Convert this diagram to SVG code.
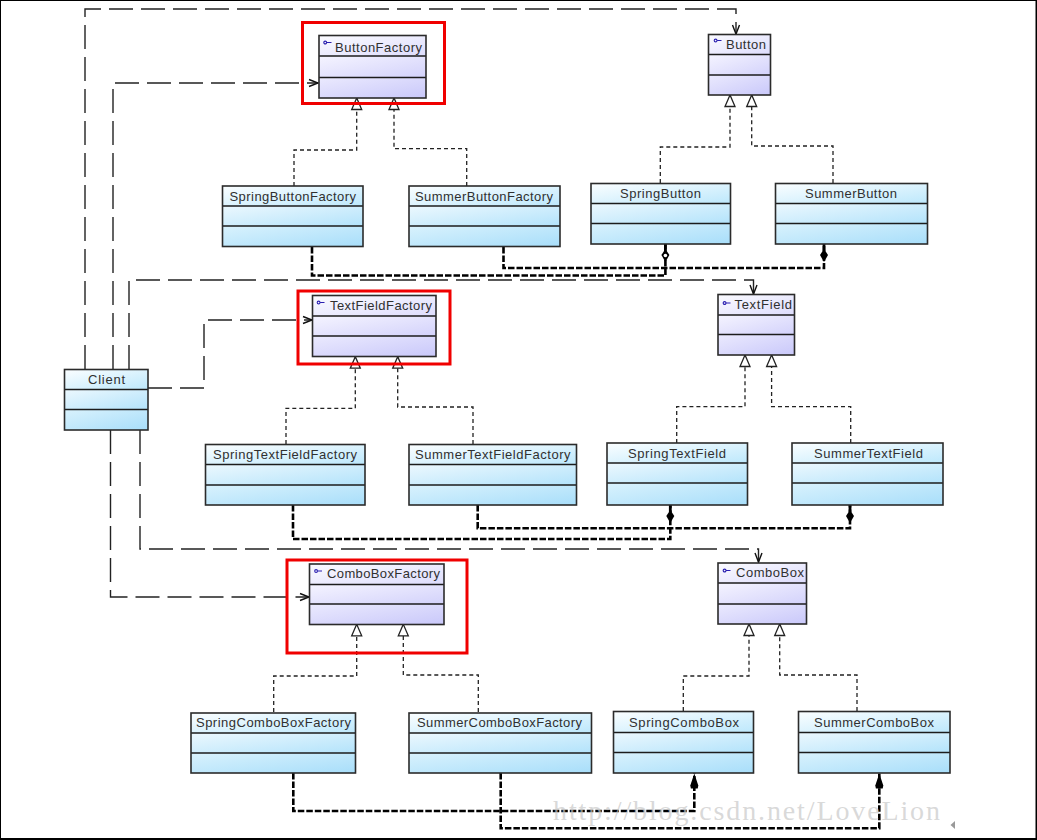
<svg xmlns="http://www.w3.org/2000/svg" width="1037" height="840" viewBox="0 0 1037 840">
<style>
  text { font-family: "Liberation Sans", Arial, sans-serif; font-size: 13px; fill: #303030; }
  .c1 { fill: url(#cyanTop); } .c2 { fill: url(#cyanMid); } .c3 { fill: url(#cyanLow); }
  .p1 { fill: url(#violetTop); } .p2 { fill: url(#violetMid); } .p3 { fill: url(#violetLow); }
  .box { fill: none; stroke: #2b2b2b; stroke-width: 1.6; }
  .sep { stroke: #1c1c1c; stroke-width: 1.4; }
  .key { fill: none; stroke: #2a1fb0; stroke-width: 1.1; }
  .assoc { fill: none; stroke: #222; stroke-width: 1.4; stroke-dasharray: 24 8; marker-end: url(#open); }
  .real { fill: none; stroke: #222; stroke-width: 1.3; stroke-dasharray: 4 3; marker-end: url(#tri); }
  .dep { fill: none; stroke: #000; stroke-width: 2.6; stroke-dasharray: 6.5 2; }
  .frame { fill: none; stroke: #000; stroke-width: 2; }
  .hl { fill: none; stroke: #f00000; stroke-width: 3; }
</style>
<defs>
  <linearGradient id="cyanTop" x1="0" y1="0" x2="1" y2="1"><stop offset="0" stop-color="#fbfeff"/><stop offset="1" stop-color="#bde8fc"/></linearGradient>
  <linearGradient id="cyanMid" x1="0" y1="0" x2="1" y2="1"><stop offset="0" stop-color="#ecf8fe"/><stop offset="1" stop-color="#b3e3fb"/></linearGradient>
  <linearGradient id="cyanLow" x1="0" y1="0" x2="1" y2="1"><stop offset="0" stop-color="#d9f2fd"/><stop offset="1" stop-color="#a8defa"/></linearGradient>
  <linearGradient id="violetTop" x1="0" y1="0" x2="1" y2="1"><stop offset="0" stop-color="#fbfbff"/><stop offset="1" stop-color="#dddcfc"/></linearGradient>
  <linearGradient id="violetMid" x1="0" y1="0" x2="1" y2="1"><stop offset="0" stop-color="#f5f4ff"/><stop offset="1" stop-color="#d3d2fb"/></linearGradient>
  <linearGradient id="violetLow" x1="0" y1="0" x2="1" y2="1"><stop offset="0" stop-color="#ebeafe"/><stop offset="1" stop-color="#c9c8fa"/></linearGradient>
  <marker id="tri" markerUnits="userSpaceOnUse" markerWidth="14" markerHeight="16" refX="13" refY="6" orient="auto" overflow="visible">
    <path d="M13 6 L1.5 1 L1.5 11 Z" fill="#fff" stroke="#222" stroke-width="1.3"/>
  </marker>
  <marker id="open" markerUnits="userSpaceOnUse" markerWidth="12" markerHeight="12" refX="10" refY="4" orient="auto" overflow="visible">
    <path d="M1 0.5 L10 4 L1 7.500" fill="none" stroke="#111" stroke-width="1.4"/>
  </marker>
  <marker id="dmdWhite" markerUnits="userSpaceOnUse" markerWidth="24" markerHeight="12" refX="22" refY="5" orient="auto" overflow="visible">
    <path d="M17 5 L11 1 L4 5 L11 9 Z" fill="#000"/>
    <circle cx="10.500" cy="5" r="1.800" fill="#fff"/>
    <path d="M22 5 L15 5" stroke="#000" stroke-width="2.800"/>
  </marker>
  <marker id="dmdBlack" markerUnits="userSpaceOnUse" markerWidth="24" markerHeight="12" refX="22" refY="5" orient="auto" overflow="visible">
    <path d="M17 5 L11 1 L4 5 L11 9 Z" fill="#000"/>
    <path d="M22 5 L15 5" stroke="#000" stroke-width="2.800"/>
  </marker>
  <marker id="head" markerUnits="userSpaceOnUse" markerWidth="24" markerHeight="12" refX="20" refY="5" orient="auto" overflow="visible">
    <path d="M20 5 L8 1 L5 1.600 L5 8.400 L8 9 Z" fill="#000"/>
  </marker>
</defs>

<rect id="outer-frame" class="frame" x="0" y="0" width="1036.500" height="839"/>

<g id="connectors">
  <!-- Client associations -->
  <path class="assoc" d="M85 369 V9 H736 V34"/>
  <path class="assoc" d="M113 369 V83 H318"/>
  <path class="assoc" d="M129 369 V280 H753.500 V294"/>
  <path class="assoc" d="M148 388 H204 V320 H312"/>
  <path class="assoc" d="M110.500 430 V597 H309"/>
  <path class="assoc" d="M140 430 V549 H758.500 V562"/>
  <!-- Interface realizations -->
  <path class="real" d="M294 186 V150 H356.700 V98"/>
  <path class="real" d="M466.700 186 V148.700 H394 V98"/>
  <path class="real" d="M660.300 183 V147 H730 V95"/>
  <path class="real" d="M833 183 V146 H751.700 V95"/>
  <path class="real" d="M286 444 V408.300 H355.300 V356.700"/>
  <path class="real" d="M473 444 V407 H397.700 V356.700"/>
  <path class="real" d="M676.700 443 V406.700 H745 V355"/>
  <path class="real" d="M850.700 443 V406.700 H771.600 V355"/>
  <path class="real" d="M273.700 712 V676 H356.700 V624.300"/>
  <path class="real" d="M478.300 712 V675 H403.300 V624.300"/>
  <path class="real" d="M683.300 711 V676 H749 V624"/>
  <path class="real" d="M857 711 V675 H779.700 V624"/>
  <!-- Factory products -->
  <path class="dep" d="M312 247 V275.500 H665.400 V244" marker-end="url(#dmdWhite)"/>
  <path class="dep" d="M503.500 247 V268 H824 V244" marker-end="url(#dmdBlack)"/>
  <path class="dep" d="M293 505 V539 H670.300 V505" marker-end="url(#dmdBlack)"/>
  <path class="dep" d="M477.700 505 V528.300 H850 V505" marker-end="url(#dmdBlack)"/>
  <path class="dep" d="M293.300 773 V811 H694.300 V773.500" marker-end="url(#head)"/>
  <path class="dep" d="M500.700 773 V828.300 H879.300 V773.500" marker-end="url(#head)"/>
</g>

<g id="ButtonFactory">
  <rect class="p1" x="319" y="35.500" width="107" height="20.500"/><rect class="p2" x="319" y="56" width="107" height="21.500"/><rect class="p3" x="319" y="77.500" width="107" height="20.500"/>
  <path class="sep" d="M319 56 H426 M319 77.500 H426"/><rect class="box" x="319" y="35.500" width="107" height="62.500"/>
  <path class="key" d="M331.500 42.500 H327 M326.600 42.500 a1.400 1.400 0 1 1 -2.800 0 a1.400 1.400 0 1 1 2.800 0"/>
  <text x="335" y="51.500" textLength="87" lengthAdjust="spacing">ButtonFactory</text>
</g>
<g id="SpringButtonFactory">
  <rect class="c1" x="222.500" y="186" width="140.500" height="20"/><rect class="c2" x="222.500" y="206" width="140.500" height="20"/><rect class="c3" x="222.500" y="226" width="140.500" height="20.500"/>
  <path class="sep" d="M222.500 206 H363 M222.500 226 H363"/><rect class="box" x="222.500" y="186" width="140.500" height="60.500"/>
  <text x="229.500" y="200.500" textLength="126.500" lengthAdjust="spacing">SpringButtonFactory</text>
</g>
<g id="SummerButtonFactory">
  <rect class="c1" x="409" y="186" width="151" height="20"/><rect class="c2" x="409" y="206" width="151" height="20"/><rect class="c3" x="409" y="226" width="151" height="20.500"/>
  <path class="sep" d="M409 206 H560 M409 226 H560"/><rect class="box" x="409" y="186" width="151" height="60.500"/>
  <text x="415" y="200.500" textLength="138" lengthAdjust="spacing">SummerButtonFactory</text>
</g>
<g id="Button">
  <rect class="p1" x="708.500" y="34.500" width="62" height="20"/><rect class="p2" x="708.500" y="54.500" width="62" height="20.500"/><rect class="p3" x="708.500" y="75" width="62" height="20"/>
  <path class="sep" d="M708.500 54.500 H770.500 M708.500 75 H770.500"/><rect class="box" x="708.500" y="34.500" width="62" height="60.500"/>
  <path class="key" d="M721.500 40.500 H717.500 M717 40.500 a1.400 1.400 0 1 1 -2.800 0 a1.400 1.400 0 1 1 2.800 0"/>
  <text x="726" y="49" textLength="40" lengthAdjust="spacing">Button</text>
</g>
<g id="SpringButton">
  <rect class="c1" x="591" y="183.500" width="139.500" height="20"/><rect class="c2" x="591" y="203.500" width="139.500" height="20"/><rect class="c3" x="591" y="223.500" width="139.500" height="20.500"/>
  <path class="sep" d="M591 203.500 H730.500 M591 223.500 H730.500"/><rect class="box" x="591" y="183.500" width="139.500" height="60.500"/>
  <text x="620" y="197.500" textLength="81" lengthAdjust="spacing">SpringButton</text>
</g>
<g id="SummerButton">
  <rect class="c1" x="775.500" y="183.500" width="152" height="20"/><rect class="c2" x="775.500" y="203.500" width="152" height="20"/><rect class="c3" x="775.500" y="223.500" width="152" height="20.500"/>
  <path class="sep" d="M775.500 203.500 H927.500 M775.500 223.500 H927.500"/><rect class="box" x="775.500" y="183.500" width="152" height="60.500"/>
  <text x="805" y="197.500" textLength="92" lengthAdjust="spacing">SummerButton</text>
</g>

<g id="TextFieldFactory">
  <rect class="p1" x="312.500" y="295.500" width="123.500" height="20.500"/><rect class="p2" x="312.500" y="316" width="123.500" height="20"/><rect class="p3" x="312.500" y="336" width="123.500" height="20.500"/>
  <path class="sep" d="M312.500 316 H436 M312.500 336 H436"/><rect class="box" x="312.500" y="295.500" width="123.500" height="61"/>
  <path class="key" d="M324.500 302.500 H320.500 M320 302.500 a1.400 1.400 0 1 1 -2.800 0 a1.400 1.400 0 1 1 2.800 0"/>
  <text x="330" y="310" textLength="102" lengthAdjust="spacing">TextFieldFactory</text>
</g>
<g id="SpringTextFieldFactory">
  <rect class="c1" x="205.500" y="444.500" width="159.500" height="20"/><rect class="c2" x="205.500" y="464.500" width="159.500" height="20.500"/><rect class="c3" x="205.500" y="485" width="159.500" height="20"/>
  <path class="sep" d="M205.500 464.500 H365 M205.500 485 H365"/><rect class="box" x="205.500" y="444.500" width="159.500" height="60.500"/>
  <text x="213" y="458.500" textLength="144" lengthAdjust="spacing">SpringTextFieldFactory</text>
</g>
<g id="SummerTextFieldFactory">
  <rect class="c1" x="409" y="444.500" width="167.500" height="20"/><rect class="c2" x="409" y="464.500" width="167.500" height="20.500"/><rect class="c3" x="409" y="485" width="167.500" height="20"/>
  <path class="sep" d="M409 464.500 H576.500 M409 485 H576.500"/><rect class="box" x="409" y="444.500" width="167.500" height="60.500"/>
  <text x="415" y="458.500" textLength="155.500" lengthAdjust="spacing">SummerTextFieldFactory</text>
</g>
<g id="TextField">
  <rect class="p1" x="718" y="294.500" width="76.500" height="20.500"/><rect class="p2" x="718" y="315" width="76.500" height="19.500"/><rect class="p3" x="718" y="334.500" width="76.500" height="20.500"/>
  <path class="sep" d="M718 315 H794.500 M718 334.500 H794.500"/><rect class="box" x="718" y="294.500" width="76.500" height="60.500"/>
  <path class="key" d="M730.500 303 H726.500 M726 303 a1.400 1.400 0 1 1 -2.800 0 a1.400 1.400 0 1 1 2.800 0"/>
  <text x="734.500" y="309" textLength="57.500" lengthAdjust="spacing">TextField</text>
</g>
<g id="SpringTextField">
  <rect class="c1" x="607" y="443" width="140.500" height="20"/><rect class="c2" x="607" y="463" width="140.500" height="20"/><rect class="c3" x="607" y="483" width="140.500" height="22"/>
  <path class="sep" d="M607 463 H747.500 M607 483 H747.500"/><rect class="box" x="607" y="443" width="140.500" height="62"/>
  <text x="628" y="457.500" textLength="98" lengthAdjust="spacing">SpringTextField</text>
</g>
<g id="SummerTextField">
  <rect class="c1" x="792" y="443" width="151" height="20"/><rect class="c2" x="792" y="463" width="151" height="20"/><rect class="c3" x="792" y="483" width="151" height="22"/>
  <path class="sep" d="M792 463 H943 M792 483 H943"/><rect class="box" x="792" y="443" width="151" height="62"/>
  <text x="814" y="457.500" textLength="109" lengthAdjust="spacing">SummerTextField</text>
</g>
<g id="Client">
  <rect class="c1" x="64.500" y="369.500" width="83.500" height="20"/><rect class="c2" x="64.500" y="389.500" width="83.500" height="20"/><rect class="c3" x="64.500" y="409.500" width="83.500" height="20.500"/>
  <path class="sep" d="M64.500 389.500 H148 M64.500 409.500 H148"/><rect class="box" x="64.500" y="369.500" width="83.500" height="60.500"/>
  <text x="88" y="383.500" textLength="37" lengthAdjust="spacing">Client</text>
</g>

<g id="ComboBoxFactory">
  <rect class="p1" x="309.500" y="564" width="134.500" height="20.500"/><rect class="p2" x="309.500" y="584.500" width="134.500" height="19.500"/><rect class="p3" x="309.500" y="604" width="134.500" height="20.500"/>
  <path class="sep" d="M309.500 584.500 H444 M309.500 604 H444"/><rect class="box" x="309.500" y="564" width="134.500" height="60.500"/>
  <path class="key" d="M322 571 H318 M317.500 571 a1.400 1.400 0 1 1 -2.800 0 a1.400 1.400 0 1 1 2.800 0"/>
  <text x="327" y="577.500" textLength="113" lengthAdjust="spacing">ComboBoxFactory</text>
</g>
<g id="SpringComboBoxFactory">
  <rect class="c1" x="191" y="713" width="164.500" height="20"/><rect class="c2" x="191" y="733" width="164.500" height="20"/><rect class="c3" x="191" y="753" width="164.500" height="20"/>
  <path class="sep" d="M191 733 H355.500 M191 753 H355.500"/><rect class="box" x="191" y="713" width="164.500" height="60"/>
  <text x="196" y="727" textLength="155" lengthAdjust="spacing">SpringComboBoxFactory</text>
</g>
<g id="SummerComboBoxFactory">
  <rect class="c1" x="409" y="713" width="182.500" height="20"/><rect class="c2" x="409" y="733" width="182.500" height="20"/><rect class="c3" x="409" y="753" width="182.500" height="20"/>
  <path class="sep" d="M409 733 H591.500 M409 753 H591.500"/><rect class="box" x="409" y="713" width="182.500" height="60"/>
  <text x="417" y="727" textLength="165" lengthAdjust="spacing">SummerComboBoxFactory</text>
</g>
<g id="ComboBox">
  <rect class="p1" x="718" y="563" width="88.500" height="20"/><rect class="p2" x="718" y="583" width="88.500" height="21"/><rect class="p3" x="718" y="604" width="88.500" height="20"/>
  <path class="sep" d="M718 583 H806.500 M718 604 H806.500"/><rect class="box" x="718" y="563" width="88.500" height="61"/>
  <path class="key" d="M730.500 570.500 H726.500 M726 570.500 a1.400 1.400 0 1 1 -2.800 0 a1.400 1.400 0 1 1 2.800 0"/>
  <text x="736" y="577" textLength="68" lengthAdjust="spacing">ComboBox</text>
</g>
<g id="SpringComboBox">
  <rect class="c1" x="613.500" y="711.500" width="140" height="21"/><rect class="c2" x="613.500" y="732.500" width="140" height="20"/><rect class="c3" x="613.500" y="752.500" width="140" height="20.500"/>
  <path class="sep" d="M613.500 732.500 H753.500 M613.500 752.500 H753.500"/><rect class="box" x="613.500" y="711.500" width="140" height="61.500"/>
  <text x="629" y="727" textLength="110" lengthAdjust="spacing">SpringComboBox</text>
</g>
<g id="SummerComboBox">
  <rect class="c1" x="798.500" y="711.500" width="151.500" height="21"/><rect class="c2" x="798.500" y="732.500" width="151.500" height="20"/><rect class="c3" x="798.500" y="752.500" width="151.500" height="20.500"/>
  <path class="sep" d="M798.500 732.500 H950 M798.500 752.500 H950"/><rect class="box" x="798.500" y="711.500" width="151.500" height="61.500"/>
  <text x="814" y="727" textLength="120" lengthAdjust="spacing">SummerComboBox</text>
</g>

<g id="highlights">
  <rect class="hl" x="302.500" y="22.500" width="142" height="81"/>
  <rect class="hl" x="298" y="291" width="152" height="73"/>
  <rect class="hl" x="287" y="560" width="180" height="93"/>
</g>

<text id="watermark" x="553" y="820" style="font-family:'Liberation Serif',serif;font-size:28px;fill:#c8c8c8;fill-opacity:.7" textLength="387" lengthAdjust="spacing">http://blog.csdn.net/LoveLion</text>
<path id="resize-tick" d="M950.500 825 L955 821 V829 Z" fill="#999"/>
</svg>
